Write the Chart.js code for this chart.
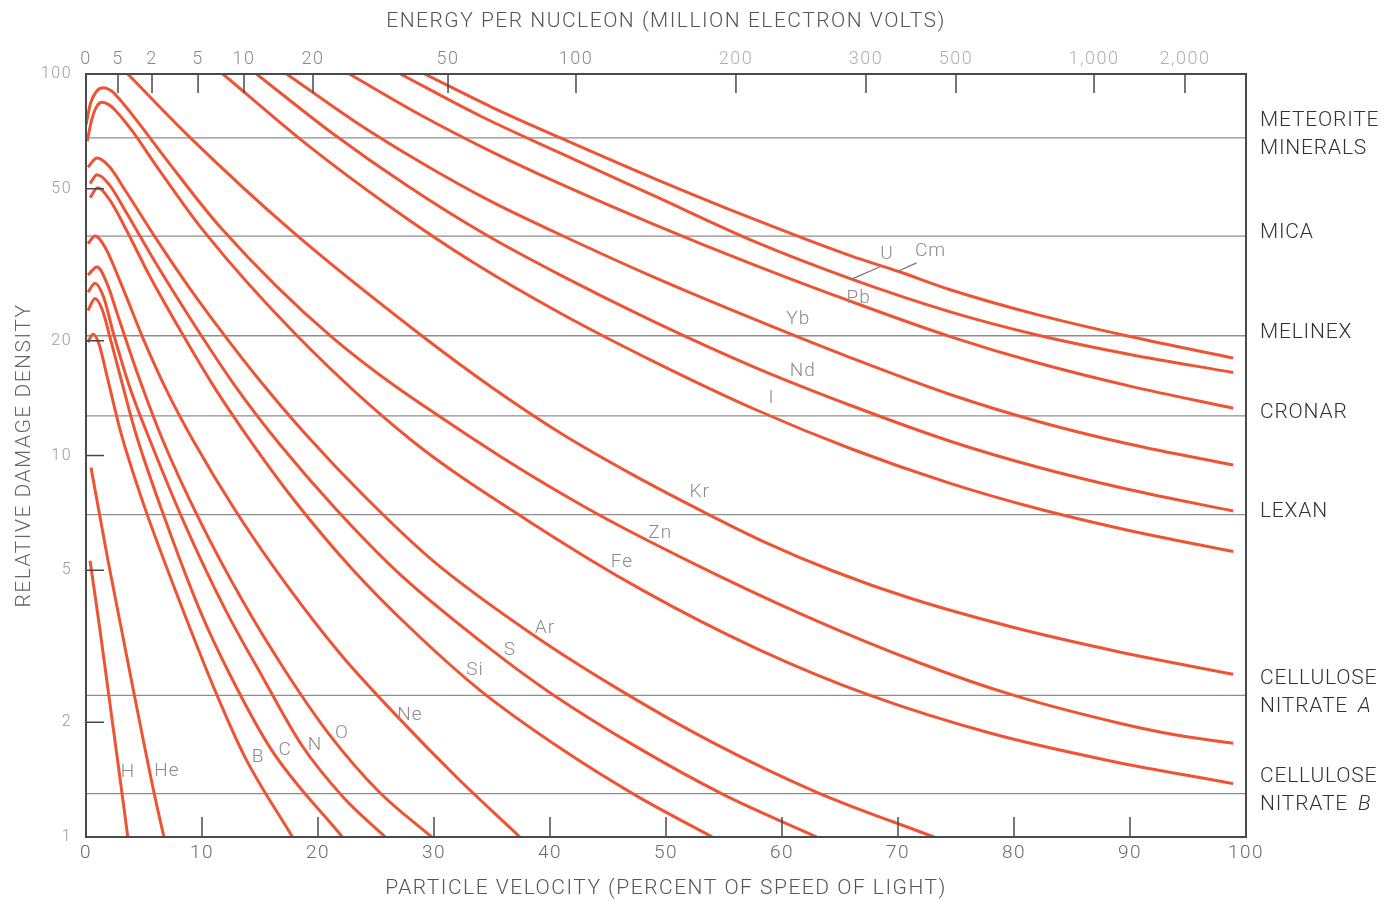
<!DOCTYPE html>
<html>
<head>
<meta charset="utf-8">
<script src="https://cdn.jsdelivr.net/npm/chart.js@4.4.1/dist/chart.umd.min.js"></script>
<style>
  html, body { margin: 0; background: #fff; }
  #wrap { width: 1390px; height: 901px; position: relative; }
</style>
</head>
<body>
<div id="wrap"><canvas id="chart"></canvas></div>
<script>
// ----- axes -----
const velocityTicks = [0, 10, 20, 30, 40, 50, 60, 70, 80, 90, 100];
const energyTickVelocity = [0, 2.76, 5.69, 9.66, 13.62, 19.57, 31.21, 42.24, 56.03, 67.24, 75.0, 86.9, 94.74];
const energyLabels = ['0', '5', '2', '5', '10', '20', '50', '100', '200', '300', '500', '1,000', '2,000'];
const damageTicks = [1, 2, 5, 10, 20, 50, 100];

// ----- detector thresholds -----
const materialNames = [['METEORITE', 'MINERALS'], ['MICA'], ['MELINEX'], ['CRONAR'], ['LEXAN'],
  ['CELLULOSE', 'NITRATE |A'], ['CELLULOSE', 'NITRATE |B']];
const materialLevels = [68, 37.6, 20.6, 12.7, 7.0, 2.35, 1.30];

// ----- curves: [velocity %, relative damage density] -----
const H  = [[0.35, 5.3], [1.2, 3.5], [2.05, 2.25], [2.9, 1.45], [3.6, 1.0]];
const He = [[0.43, 9.3], [1.9, 5.3], [3.06, 3.5], [4.22, 2.31], [5.95, 1.27], [6.72, 1.0]];
const B  = [[0.17, 19.8], [0.6, 20.8], [1.1, 19.7], [1.8, 16.2], [3.0, 11.5], [5.0, 7.4], [8.0, 4.2], [11.3, 2.35], [13.7, 1.62], [17.8, 1.0]];
const C  = [[0.17, 24.0], [0.78, 25.8], [1.4, 24.1], [2.2, 19.7], [3.2, 15.1], [4.3, 11.4], [6.5, 7.24], [9.8, 3.94], [12.5, 2.63], [16.0, 1.69], [22.1, 1.0]];
const N  = [[0.17, 26.8], [0.78, 28.3], [1.5, 26.1], [2.4, 20.7], [3.8, 15.0], [5.65, 10.7], [8.5, 6.62], [12.0, 3.95], [15.3, 2.6], [18.6, 1.74], [22.2, 1.27], [25.8, 1.0]];
const O  = [[0.17, 29.7], [0.95, 31.2], [1.8, 28.3], [2.8, 23.0], [4.5, 16.2], [6.6, 11.0], [9.8, 6.76], [13.5, 4.16], [17.2, 2.72], [20.9, 1.87], [25.3, 1.31], [29.8, 1.0]];
const Ne = [[0.17, 35.9], [0.78, 37.6], [1.7, 34.9], [3.0, 28.3], [5.0, 20.0], [7.0, 14.7], [9.2, 11.0], [13.0, 7.08], [17.5, 4.49], [22.0, 3.0], [26.7, 2.09], [32.0, 1.43], [37.4, 1.0]];
const Si = [[0.35, 47.4], [1.0, 50.3], [2.0, 47.0], [3.5, 38.9], [5.5, 29.5], [8.4, 20.6], [11.0, 15.2], [13.75, 11.4], [18.0, 7.6], [23.0, 5.02], [28.0, 3.52], [34.0, 2.42], [41.0, 1.70], [47.5, 1.28], [54.0, 1.0]];
const S  = [[0.35, 51.6], [0.95, 54.4], [2.0, 51.3], [3.5, 43.2], [6.0, 32.0], [9.6, 21.4], [13.0, 15.0], [16.7, 10.7], [21.5, 7.26], [27.0, 4.9], [35.1, 3.07], [40.0, 2.39], [47.5, 1.72], [55.0, 1.29], [63.0, 1.0]];
const Ar = [[0.17, 57.0], [0.95, 60.2], [2.0, 57.2], [3.5, 48.9], [6.0, 37.2], [8.6, 28.4], [11.3, 21.9], [15.0, 15.7], [18.9, 11.4], [24.0, 7.82], [30.0, 5.27], [38.4, 3.41], [46.0, 2.43], [54.0, 1.77], [63.0, 1.31], [73.1, 1.0]];
const Fe = [[0.1, 66.6], [0.5, 76], [0.9, 82], [1.4, 84.3], [2.0, 83], [2.5, 80.5], [4.0, 70.8], [6.0, 57.8], [10.1, 38.9], [18.2, 20.6], [28.0, 11.0], [38.0, 6.78], [48.0, 4.43], [58.0, 3.10], [67.6, 2.35], [78.0, 1.87], [88.0, 1.59], [98.9, 1.38]];
const Zn = [[0.0, 73.6], [0.4, 84], [0.9, 90], [1.5, 92], [2.2, 90.2], [2.8, 86.5], [4.5, 74.7], [7.0, 59.3], [11.6, 39.6], [21.3, 20.3], [33.5, 11.0], [43.0, 7.33], [52.0, 5.28], [62.0, 3.8], [72.0, 2.85], [80.0, 2.35], [89.0, 1.99], [94.0, 1.85], [98.9, 1.76]];
const Kr = [[3.6, 100], [9.0, 68], [17.8, 38.6], [28.5, 21.1], [35.0, 15.07], [41.0, 11.4], [47.0, 8.95], [52.9, 7.2], [58.5, 5.93], [64.4, 4.98], [71.0, 4.23], [80.0, 3.54], [89.0, 3.06], [98.9, 2.67]];
const I  = [[11.8, 100], [19.0, 65.5], [26.3, 44.7], [33.5, 31.9], [40.9, 23.6], [49.0, 17.6], [57.7, 13.2], [66.0, 10.4], [74.5, 8.45], [82.0, 7.26], [90.0, 6.35], [98.9, 5.6]];
const Nd = [[14.7, 100], [21.0, 70.8], [27.8, 50.7], [34.4, 38.0], [40.9, 29.7], [49.0, 22.4], [57.7, 17.0], [66.0, 13.5], [74.5, 10.9], [82.0, 9.33], [90.0, 8.13], [98.9, 7.15]];
const Yb = [[17.3, 100], [23.2, 75], [29.1, 58.1], [35.0, 46.2], [40.9, 37.9], [49.0, 29.3], [57.7, 22.7], [66.0, 18.0], [74.5, 14.45], [82.0, 12.3], [90.0, 10.7], [98.9, 9.44]];
const Pb = [[22.7, 100], [28.8, 78.2], [34.9, 62.7], [40.9, 51.5], [49.0, 40.3], [57.7, 31.5], [66.0, 25.3], [74.5, 20.5], [82.0, 17.5], [90.0, 15.2], [98.9, 13.3]];
const U  = [[27.1, 100], [34.0, 77.6], [40.9, 62], [49.0, 47.9], [57.7, 36.3], [66.0, 29.0], [74.5, 23.8], [82.0, 20.7], [90.0, 18.4], [98.9, 16.5]];
const Cm = [[29.2, 100], [35.0, 81.8], [40.9, 68], [49.0, 53.2], [57.7, 41.5], [66.0, 33.3], [70.0, 30.4], [74.5, 27.2], [82.0, 23.4], [90.0, 20.5], [98.9, 18.0]];

const elementNames = ['H', 'He', 'B', 'C', 'N', 'O', 'Ne', 'Si', 'S', 'Ar', 'Fe', 'Zn', 'Kr', 'I', 'Nd', 'Yb', 'Pb', 'U', 'Cm'];
const elementCurves = [H, He, B, C, N, O, Ne, Si, S, Ar, Fe, Zn, Kr, I, Nd, Yb, Pb, U, Cm];
const labelSpots = [[3.62, 1.48], [6.98, 1.49], [14.83, 1.62], [17.16, 1.69], [19.74, 1.74], [22.07, 1.87],
  [27.93, 2.09], [33.53, 2.74], [36.55, 3.09], [39.57, 3.53], [46.2, 5.25], [49.5, 6.27], [52.9, 8.03],
  [59.1, 14.1], [61.8, 16.6], [61.4, 22.7], [66.6, 25.9], [69.05, 33.6], [72.8, 34.3]];
// leader lines for U and Cm: label end -> point on the curve
const leaders = [[68.4, 31.2, 66.0, 29.0], [71.6, 32.0, 70.0, 30.4]];

const RED = '#ee5434';
const FONT = 'Roboto, "Liberation Sans", sans-serif';

const datasets = [];
elementCurves.forEach((pts, i) => {
    datasets.push({
        label: elementNames[i],
        data: pts.map(p => ({ x: p[0], y: p[1] })),
        borderColor: RED,
        borderWidth: 3,
        pointRadius: 0,
        cubicInterpolationMode: 'monotone',
        fill: false,
        order: 1
    });
});
materialLevels.forEach((lv, i) => {
    datasets.push({
        label: materialNames[i].join(' '),
        data: [{ x: 0, y: lv }, { x: 100, y: lv }],
        borderColor: '#8e8e8e',
        borderWidth: 1.3,
        pointRadius: 0,
        fill: false,
        order: 2
    });
});

const decor = {
    id: 'decor',
    beforeDraw(chart) {
        // the printed lettering is widely tracked
        chart.ctx.letterSpacing = '1.5px';
    },
    afterDatasetsDraw(chart) {
        const { ctx, chartArea: a, scales: { x, x2, y } } = chart;
        ctx.save();

        // frame
        ctx.strokeStyle = '#4a4a4a';
        ctx.lineWidth = 2;
        ctx.strokeRect(a.left, a.top, a.right - a.left, a.bottom - a.top);

        // inward tick marks
        ctx.lineWidth = 1.5;
        ctx.beginPath();
        velocityTicks.forEach(v => {
            if (v <= 0 || v >= 100) return;
            const px = x.getPixelForValue(v);
            ctx.moveTo(px, a.bottom); ctx.lineTo(px, a.bottom - 20);
        });
        energyTickVelocity.forEach(v => {
            if (v <= 0) return;
            const px = x2.getPixelForValue(v);
            ctx.moveTo(px, a.top); ctx.lineTo(px, a.top + 19);
        });
        damageTicks.forEach(d => {
            if (d <= 1 || d >= 100) return;
            const py = y.getPixelForValue(d);
            ctx.moveTo(a.left, py); ctx.lineTo(a.left + 18, py);
        });
        ctx.stroke();

        // element labels
        ctx.fillStyle = '#8c8c8c';
        ctx.font = '300 19px ' + FONT;
        ctx.textAlign = 'center';
        ctx.textBaseline = 'middle';
        ctx.letterSpacing = '1px';
        elementNames.forEach((name, i) => {
            const [v, d] = labelSpots[i];
            ctx.fillText(name, x.getPixelForValue(v), y.getPixelForValue(d));
        });
        ctx.strokeStyle = '#777';
        ctx.lineWidth = 1.3;
        ctx.beginPath();
        leaders.forEach(([v1, d1, v2, d2]) => {
            ctx.moveTo(x.getPixelForValue(v1), y.getPixelForValue(d1));
            ctx.lineTo(x.getPixelForValue(v2), y.getPixelForValue(d2));
        });
        ctx.stroke();

        // material names at right
        ctx.fillStyle = '#333';
        ctx.textAlign = 'left';
        ctx.letterSpacing = '0.8px';
        const lx = a.right + 14;
        materialNames.forEach((lines, i) => {
            const cy = y.getPixelForValue(materialLevels[i]) - 3;
            lines.forEach((ln, k) => {
                const ly = cy + (k - (lines.length - 1) / 2) * 28;
                const parts = ln.split('|');
                ctx.font = '300 21px ' + FONT;
                ctx.fillText(parts[0], lx, ly);
                if (parts[1]) {
                    const w = ctx.measureText(parts[0]).width;
                    ctx.font = 'italic 300 21px ' + FONT;
                    ctx.fillText(parts[1], lx + w + 4, ly);
                }
            });
        });
        ctx.restore();
    }
};

new Chart(document.getElementById('chart'), {
    type: 'line',
    data: { datasets },
    options: {
        responsive: true,
        maintainAspectRatio: false,
        animation: false,
        layout: { padding: { left: 0, top: 0, right: 144, bottom: 0 } },
        plugins: { legend: { display: false }, tooltip: { enabled: false } },
        scales: {
            x: {
                type: 'linear', position: 'bottom', min: 0, max: 100,
                afterBuildTicks: s => { s.ticks = velocityTicks.map(v => ({ value: v })); },
                afterFit: s => { s.height = 64; },
                grid: { display: false, drawTicks: false },
                border: { display: false },
                ticks: { color: '#6a6a6a', font: { family: FONT, size: 19, weight: '300' }, padding: 5, maxRotation: 0, autoSkip: false },
                title: {
                    display: true, text: 'PARTICLE VELOCITY (PERCENT OF SPEED OF LIGHT)',
                    color: '#555', font: { family: FONT, size: 21, weight: '300' }, padding: { top: 0, bottom: 0 }
                }
            },
            x2: {
                type: 'linear', position: 'top', min: 0, max: 100,
                afterBuildTicks: s => { s.ticks = energyTickVelocity.map(v => ({ value: v })); },
                afterFit: s => { s.height = 74; },
                grid: { display: false, drawTicks: false },
                border: { display: false },
                ticks: {
                    callback: (v, i) => energyLabels[i],
                    color: ctx => ctx.index >= 8 ? '#b0b0b0' : '#8a8a8a',
                    font: { family: FONT, size: 18, weight: '300' }, padding: 4, maxRotation: 0, autoSkip: false
                },
                title: {
                    display: true, text: 'ENERGY PER NUCLEON (MILLION ELECTRON VOLTS)',
                    color: '#555', font: { family: FONT, size: 21, weight: '300' }, padding: { top: 9, bottom: 0 }
                }
            },
            y: {
                type: 'logarithmic', position: 'left', min: 1, max: 100,
                afterBuildTicks: s => { s.ticks = damageTicks.map(v => ({ value: v })); },
                afterFit: s => { s.width = 86; },
                grid: { display: false, drawTicks: false },
                border: { display: false },
                ticks: {
                    callback: v => String(v),
                    color: '#9a9a9a', font: { family: FONT, size: 16, weight: '300' }, padding: 14, autoSkip: false
                },
                title: {
                    display: true, text: 'RELATIVE DAMAGE DENSITY',
                    color: '#666', font: { family: FONT, size: 21, weight: '300' }, padding: { top: 12, bottom: 0 }
                }
            }
        }
    },
    plugins: [decor]
});
</script>
</body>
</html>
